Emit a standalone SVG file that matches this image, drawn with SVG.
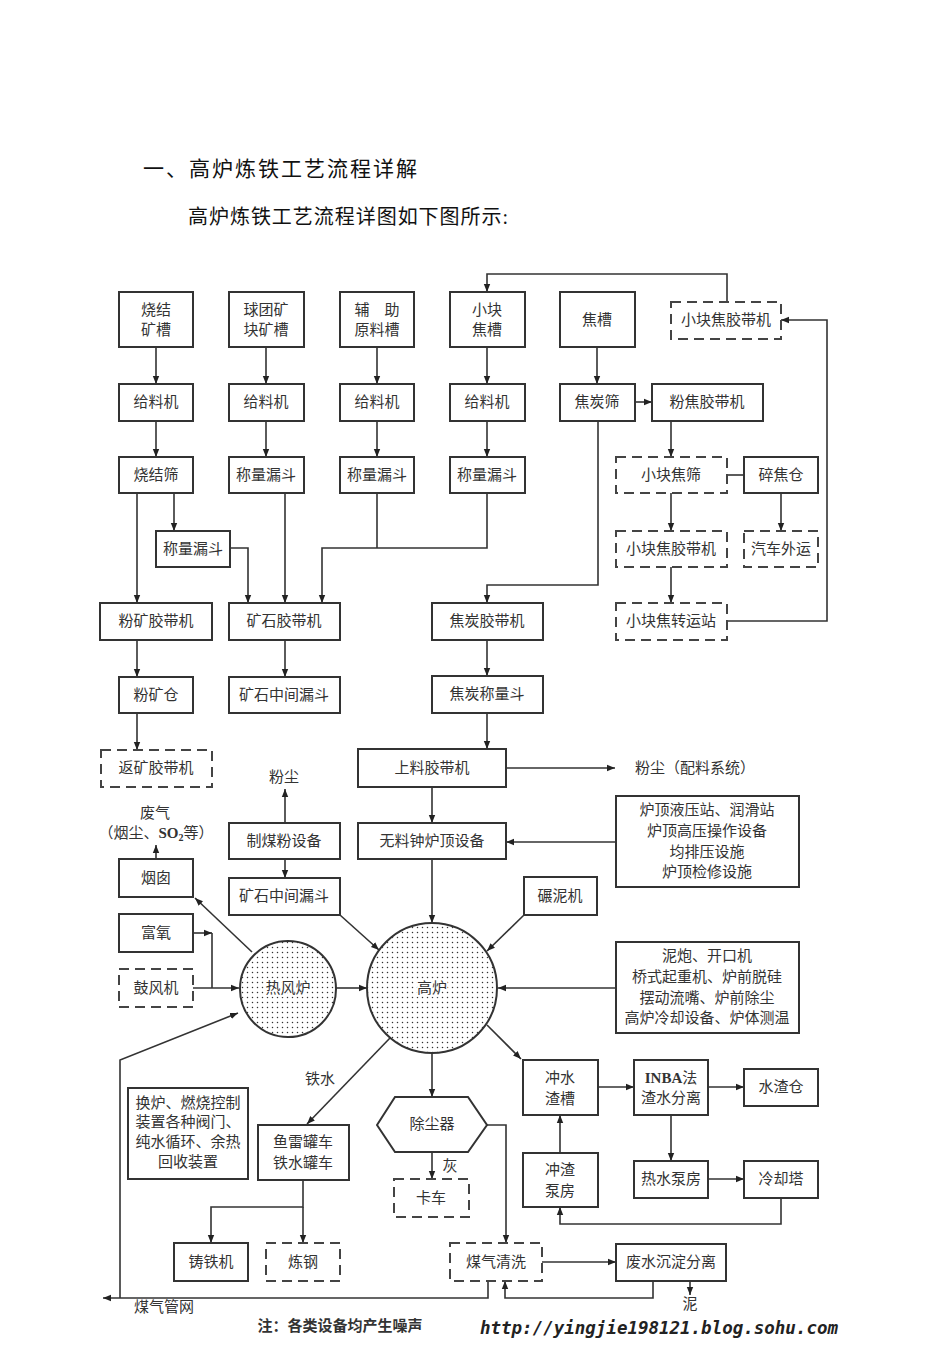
<svg xmlns="http://www.w3.org/2000/svg" width="950" height="1345" viewBox="0 0 950 1345">
<style>
.b{fill:#fff;stroke:#333;stroke-width:2}
.d{fill:#fff;stroke:#444;stroke-width:2;stroke-dasharray:10 6}
.t{font-family:"Liberation Serif","Noto Sans CJK SC",serif;font-size:15px;fill:#333;text-anchor:middle;dominant-baseline:central}
.h{font-family:"Liberation Serif","Noto Sans CJK SC",serif;fill:#111}
.l{fill:none;stroke:#333;stroke-width:1.6}
.a{marker-end:url(#ar)}
</style>
<defs>
<marker id="ar" viewBox="0 0 10 10" refX="10" refY="5" markerWidth="8" markerHeight="8" markerUnits="userSpaceOnUse" orient="auto">
<path d="M0,1 L10,5 L0,9 z" fill="#222"/>
</marker>
<pattern id="dots" width="5" height="5" patternUnits="userSpaceOnUse">
<rect width="5" height="5" fill="#fff"/>
<circle cx="2.5" cy="2.5" r="0.75" fill="#333"/>
</pattern>
</defs>
<rect width="950" height="1345" fill="#fff"/>

<text class="h" x="143" y="176" font-size="21" textLength="274">一、高炉炼铁工艺流程详解</text>
<text class="h" x="188" y="224" font-size="20" textLength="320">高炉炼铁工艺流程详图如下图所示:</text>

<g id="connectors">
<path class="l a" d="M156,347V384"/><path class="l a" d="M156,421V457"/>
<path class="l a" d="M266,347V384"/><path class="l a" d="M266,421V457"/>
<path class="l a" d="M377,347V384"/><path class="l a" d="M377,421V457"/>
<path class="l a" d="M487,347V384"/><path class="l a" d="M487,421V457"/>
<path class="l a" d="M597,347V384"/>
<path class="l a" d="M635,402H652"/>
<path class="l a" d="M671,421V457"/>
<path class="l" d="M727,475H744"/>
<path class="l a" d="M781,493V531"/>
<path class="l a" d="M671,493V531"/>
<path class="l a" d="M671,567V603"/>
<path class="l a" d="M727,621H827V320H781"/>
<path class="l a" d="M727,302V274H487V292"/>
<path class="l a" d="M137,493V603"/>
<path class="l a" d="M174,493V531"/>
<path class="l a" d="M230,548H248V603"/>
<path class="l a" d="M285,493V603"/>
<path class="l" d="M377,493V548"/>
<path class="l a" d="M487,493V548H322V603"/>
<path class="l a" d="M598,421V585H487V603"/>
<path class="l a" d="M137,640V677"/>
<path class="l a" d="M137,713V750"/>
<path class="l a" d="M285,640V677"/>
<path class="l a" d="M487,640V676"/>
<path class="l a" d="M487,713V749"/>
<path class="l a" d="M506,768H615"/>
<path class="l a" d="M432,787V823"/>
<path class="l a" d="M432,859V923"/>
<path class="l a" d="M616,842H506"/>
<path class="l a" d="M285,823V789"/>
<path class="l a" d="M285,859V878"/>
<path class="l a" d="M156,859V845"/>
<path class="l a" d="M252,952L195,898"/>
<path class="l a" d="M193,933H212"/>
<path class="l" d="M212,933V988"/>
<path class="l a" d="M193,988H239"/>
<path class="l a" d="M336,988H367"/>
<path class="l a" d="M340,915L379,950"/>
<path class="l a" d="M524,915L487,951"/>
<path class="l a" d="M616,988H498"/>
<path class="l a" d="M487,1025L521,1059"/>
<path class="l a" d="M390,1038L307,1124"/>
<path class="l a" d="M432,1053V1097"/>
<path class="l a" d="M598,1087H634"/>
<path class="l a" d="M708,1087H744"/>
<path class="l a" d="M671,1115V1161"/>
<path class="l a" d="M708,1179H744"/>
<path class="l a" d="M781,1198V1224H560V1207"/>
<path class="l a" d="M560,1153V1115"/>
<path class="l a" d="M487,1125H506V1243"/>
<path class="l a" d="M432,1152V1179"/>
<path class="l a" d="M303,1180V1207H211V1243"/>
<path class="l a" d="M303,1207V1243"/>
<path class="l a" d="M542,1262H616"/>
<path class="l a" d="M653,1281V1298H505V1281"/>
<path class="l a" d="M690,1281V1295"/>
<path class="l a" d="M488,1281V1298H103"/>
<path class="l a" d="M120,1298V1060L238,1013"/>
</g>

<g id="n-shaojie-kc"><rect class="b" x="119" y="292" width="74" height="55"/><text class="t" x="156" y="310">烧结</text><text class="t" x="156" y="330">矿槽</text></g>
<g id="n-qiutuan"><rect class="b" x="229" y="292" width="75" height="55"/><text class="t" x="266" y="310">球团矿</text><text class="t" x="266" y="330">块矿槽</text></g>
<g id="n-fuzhu"><rect class="b" x="340" y="292" width="74" height="55"/><text class="t" x="377" y="310">辅　助</text><text class="t" x="377" y="330">原料槽</text></g>
<g id="n-xkjc"><rect class="b" x="450" y="292" width="75" height="55"/><text class="t" x="487" y="310">小块</text><text class="t" x="487" y="330">焦槽</text></g>
<g id="n-jiaocao"><rect class="b" x="560" y="292" width="75" height="55"/><text class="t" x="597" y="320">焦槽</text></g>
<g id="n-xkjjdj1"><rect class="d" x="671" y="302" width="110" height="37"/><text class="t" x="726" y="320">小块焦胶带机</text></g>

<g id="n-glj1"><rect class="b" x="119" y="384" width="74" height="37"/><text class="t" x="156" y="402">给料机</text></g>
<g id="n-glj2"><rect class="b" x="229" y="384" width="75" height="37"/><text class="t" x="266" y="402">给料机</text></g>
<g id="n-glj3"><rect class="b" x="340" y="384" width="74" height="37"/><text class="t" x="377" y="402">给料机</text></g>
<g id="n-glj4"><rect class="b" x="450" y="384" width="75" height="37"/><text class="t" x="487" y="402">给料机</text></g>
<g id="n-jtshai"><rect class="b" x="560" y="384" width="75" height="37"/><text class="t" x="597" y="402">焦炭筛</text></g>
<g id="n-fjjdj"><rect class="b" x="652" y="384" width="111" height="37"/><text class="t" x="707" y="402">粉焦胶带机</text></g>

<g id="n-sjshai"><rect class="b" x="119" y="457" width="74" height="36"/><text class="t" x="156" y="475">烧结筛</text></g>
<g id="n-clld2"><rect class="b" x="229" y="457" width="75" height="36"/><text class="t" x="266" y="475">称量漏斗</text></g>
<g id="n-clld3"><rect class="b" x="340" y="457" width="74" height="36"/><text class="t" x="377" y="475">称量漏斗</text></g>
<g id="n-clld4"><rect class="b" x="450" y="457" width="75" height="36"/><text class="t" x="487" y="475">称量漏斗</text></g>
<g id="n-xkjshai"><rect class="d" x="616" y="457" width="111" height="36"/><text class="t" x="671" y="475">小块焦筛</text></g>
<g id="n-sujc"><rect class="b" x="744" y="457" width="74" height="36"/><text class="t" x="781" y="475">碎焦仓</text></g>

<g id="n-clld1"><rect class="b" x="156" y="531" width="74" height="36"/><text class="t" x="193" y="549">称量漏斗</text></g>
<g id="n-xkjjdj2"><rect class="d" x="616" y="531" width="111" height="36"/><text class="t" x="671" y="549">小块焦胶带机</text></g>
<g id="n-qcwy"><rect class="d" x="744" y="531" width="74" height="36"/><text class="t" x="781" y="549">汽车外运</text></g>

<g id="n-fkjdj"><rect class="b" x="100" y="603" width="112" height="37"/><text class="t" x="156" y="621">粉矿胶带机</text></g>
<g id="n-ksjdj"><rect class="b" x="229" y="603" width="111" height="37"/><text class="t" x="284" y="621">矿石胶带机</text></g>
<g id="n-jtjdj"><rect class="b" x="432" y="603" width="111" height="37"/><text class="t" x="487" y="621">焦炭胶带机</text></g>
<g id="n-xkjzyz"><rect class="d" x="616" y="603" width="111" height="37"/><text class="t" x="671" y="621">小块焦转运站</text></g>

<g id="n-fkc"><rect class="b" x="119" y="677" width="74" height="36"/><text class="t" x="156" y="695">粉矿仓</text></g>
<g id="n-kszjld1"><rect class="b" x="229" y="677" width="111" height="36"/><text class="t" x="284" y="695">矿石中间漏斗</text></g>
<g id="n-jtcld"><rect class="b" x="432" y="676" width="111" height="37"/><text class="t" x="487" y="694">焦炭称量斗</text></g>

<g id="n-fkjdj2"><rect class="d" x="101" y="750" width="111" height="37"/><text class="t" x="156" y="768">返矿胶带机</text></g>
<g id="n-sljdj"><rect class="b" x="358" y="749" width="148" height="38"/><text class="t" x="432" y="768">上料胶带机</text></g>
<g id="n-fc-pl"><text class="t" x="695" y="768">粉尘（配料系统）</text></g>
<g id="n-fc"><text class="t" x="284" y="777">粉尘</text></g>

<g id="n-feiqi"><text class="t" x="155" y="813">废气</text><text class="t" x="156" y="833">（烟尘、<tspan font-weight="bold">SO<tspan font-size="10" dy="4">2</tspan></tspan><tspan dy="-4">等）</tspan></text></g>
<g id="n-zmf"><rect class="b" x="229" y="823" width="111" height="36"/><text class="t" x="284" y="841">制煤粉设备</text></g>
<g id="n-wlz"><rect class="b" x="358" y="823" width="148" height="36"/><text class="t" x="432" y="841">无料钟炉顶设备</text></g>
<g id="n-ldyyz"><rect class="b" x="616" y="796" width="183" height="91"/><text class="t" x="707" y="810">炉顶液压站、润滑站</text><text class="t" x="707" y="831">炉顶高压操作设备</text><text class="t" x="707" y="852">均排压设施</text><text class="t" x="707" y="872">炉顶检修设施</text></g>
<g id="n-yancong"><rect class="b" x="119" y="859" width="74" height="38"/><text class="t" x="156" y="878">烟囱</text></g>
<g id="n-kszjld2"><rect class="b" x="229" y="878" width="111" height="37"/><text class="t" x="284" y="896">矿石中间漏斗</text></g>
<g id="n-nianni"><rect class="b" x="524" y="877" width="73" height="38"/><text class="t" x="560" y="896">碾泥机</text></g>
<g id="n-fuyang"><rect class="b" x="119" y="914" width="74" height="38"/><text class="t" x="156" y="933">富氧</text></g>
<g id="n-gufeng"><rect class="d" x="119" y="969" width="74" height="38"/><text class="t" x="156" y="988">鼓风机</text></g>
<g id="n-nipao"><rect class="b" x="616" y="942" width="183" height="91"/><text class="t" x="707" y="956">泥炮、开口机</text><text class="t" x="707" y="977">桥式起重机、炉前脱硅</text><text class="t" x="707" y="998">摆动流嘴、炉前除尘</text><text class="t" x="707" y="1018">高炉冷却设备、炉体测温</text></g>

<g id="n-rfl"><circle cx="288" cy="989" r="48" fill="url(#dots)" stroke="#333" stroke-width="2"/><text class="t" x="288" y="988" style="paint-order:stroke" stroke="#fff" stroke-width="3">热风炉</text></g>
<g id="n-gl"><circle cx="432" cy="988" r="65" fill="url(#dots)" stroke="#333" stroke-width="2"/><text class="t" x="432" y="988" style="paint-order:stroke" stroke="#fff" stroke-width="3">高炉</text></g>

<g id="n-tieshui"><text class="t" x="320" y="1079">铁水</text></g>
<g id="n-csz"><rect class="b" x="523" y="1060" width="75" height="55"/><text class="t" x="560" y="1078">冲水</text><text class="t" x="560" y="1099">渣槽</text></g>
<g id="n-inba"><rect class="b" x="634" y="1060" width="74" height="55"/><text class="t" x="671" y="1078"><tspan font-weight="bold">INBA</tspan>法</text><text class="t" x="671" y="1098">渣水分离</text></g>
<g id="n-szc"><rect class="b" x="744" y="1069" width="74" height="37"/><text class="t" x="781" y="1087">水渣仓</text></g>
<g id="n-huanlu"><rect class="b" x="128" y="1088" width="120" height="91"/><text class="t" x="188" y="1103">换炉、燃烧控制</text><text class="t" x="188" y="1122">装置各种阀门、</text><text class="t" x="188" y="1142">纯水循环、余热</text><text class="t" x="188" y="1162">回收装置</text></g>
<g id="n-ylgc"><rect class="b" x="258" y="1125" width="91" height="55"/><text class="t" x="303" y="1142">鱼雷罐车</text><text class="t" x="303" y="1163">铁水罐车</text></g>
<g id="n-ccq"><polygon class="b" points="377,1125 395,1097 468,1097 487,1125 468,1152 395,1152"/><text class="t" x="432" y="1124">除尘器</text></g>
<g id="n-czbf"><rect class="b" x="523" y="1153" width="75" height="54"/><text class="t" x="560" y="1170">冲渣</text><text class="t" x="560" y="1191">泵房</text></g>
<g id="n-rsbf"><rect class="b" x="634" y="1161" width="74" height="37"/><text class="t" x="671" y="1179">热水泵房</text></g>
<g id="n-lqt"><rect class="b" x="744" y="1161" width="74" height="37"/><text class="t" x="781" y="1179">冷却塔</text></g>
<g id="n-hui"><text class="t" x="450" y="1166">灰</text></g>
<g id="n-kache"><rect class="d" x="394" y="1179" width="75" height="38"/><text class="t" x="431" y="1198">卡车</text></g>
<g id="n-ztj"><rect class="b" x="174" y="1243" width="74" height="38"/><text class="t" x="211" y="1262">铸铁机</text></g>
<g id="n-liangang"><rect class="d" x="266" y="1243" width="74" height="38"/><text class="t" x="303" y="1262">炼钢</text></g>
<g id="n-mqqx"><rect class="d" x="450" y="1243" width="92" height="38"/><text class="t" x="496" y="1262">煤气清洗</text></g>
<g id="n-fscd"><rect class="b" x="616" y="1244" width="110" height="37"/><text class="t" x="671" y="1262">废水沉淀分离</text></g>
<g id="n-ni"><text class="t" x="690" y="1304">泥</text></g>
<g id="n-mqgw"><text class="t" x="164" y="1307">煤气管网</text></g>
<text class="t" x="340" y="1326" font-size="11.5" font-weight="bold">注：各类设备均产生噪声</text>
<text x="480" y="1334" font-family="DejaVu Sans Mono,monospace" font-size="18" font-weight="bold" font-style="italic" fill="#222" textLength="358" lengthAdjust="spacingAndGlyphs">http://yingjie198121.blog.sohu.com</text>
</svg>
